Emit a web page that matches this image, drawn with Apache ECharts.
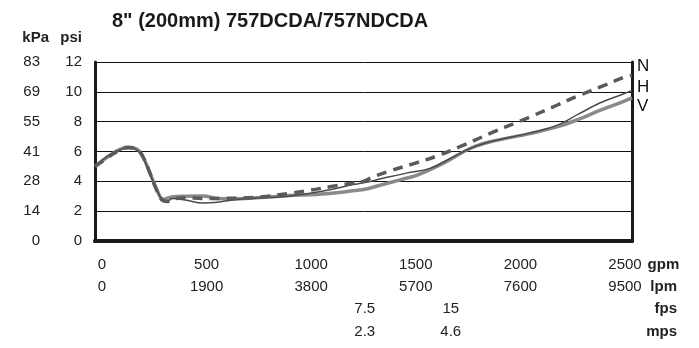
<!DOCTYPE html>
<html>
<head>
<meta charset="utf-8">
<script src="https://cdn.jsdelivr.net/npm/echarts@6/dist/echarts.min.js"></script>
<style>
html,body{margin:0;padding:0;background:#fff;}
#chart{width:699px;height:348px;}
</style>
</head>
<body>
<div id="chart"></div>
<script>
// ---- data ----
const titleText = '8" (200mm) 757DCDA/757NDCDA';
const gpmTicks = [0, 500, 1000, 1500, 2000, 2500];
const lpmLabels = ['0', '1900', '3800', '5700', '7600', '9500'];
const fpsPos = [1256, 1667];
const fpsLabels = ['7.5', '15'];
const mpsLabels = ['2.3', '4.6'];
const psiTicks = [0, 2, 4, 6, 8, 10, 12];
const kpaLabels = ['0', '14', '28', '41', '55', '69', '83'];
const starGpm = [1313, 1741];
const starLabels = ['*', '**'];

const nGpm = [0, 70, 116, 154, 196, 223, 256, 289, 317, 340, 360, 420, 503, 596, 754, 908, 1000, 1100, 1187, 1250, 1294, 1373, 1499, 1592, 1699, 1806, 1853, 1965, 2039, 2150, 2244, 2365, 2467, 2500];
const nPsi = [5.0, 5.7, 6.1, 6.25, 6.15, 5.65, 4.55, 3.35, 2.7, 2.65, 2.8, 2.9, 2.85, 2.86, 2.93, 3.2, 3.4, 3.65, 3.85, 4.0, 4.3, 4.7, 5.25, 5.7, 6.32, 7.0, 7.3, 7.95, 8.4, 9.1, 9.7, 10.4, 11.0, 11.1];

const hGpm = [0, 70, 116, 154, 196, 223, 256, 289, 317, 340, 360, 420, 503, 570, 640, 754, 875, 1000, 1100, 1190, 1250, 1341, 1450, 1560, 1650, 1746, 1840, 2025, 2150, 2250, 2350, 2450, 2500];
const hPsi = [5.0, 5.8, 6.1, 6.25, 6.1, 5.6, 4.5, 3.4, 2.75, 2.7, 2.85, 2.75, 2.55, 2.6, 2.75, 2.88, 2.97, 3.2, 3.45, 3.75, 3.9, 4.2, 4.55, 4.87, 5.5, 6.2, 6.65, 7.25, 7.75, 8.5, 9.25, 9.8, 10.1];

const vGpm = [0, 70, 116, 154, 196, 223, 256, 289, 317, 358, 420, 503, 570, 640, 754, 908, 1000, 1100, 1190, 1250, 1330, 1420, 1500, 1620, 1746, 1840, 2025, 2150, 2250, 2350, 2450, 2500];
const vPsi = [5.0, 5.75, 6.15, 6.3, 6.15, 5.65, 4.55, 3.4, 2.8, 2.95, 3.0, 3.02, 2.85, 2.82, 2.9, 3.05, 3.1, 3.2, 3.35, 3.45, 3.75, 4.1, 4.42, 5.2, 6.2, 6.65, 7.2, 7.65, 8.15, 8.75, 9.3, 9.6];

// ---- chart ----
const FONT = '"Liberation Sans", Arial, sans-serif';
const TXT = '#222';
const FS = 15;
const pair = (xs, ys) => xs.map((x, i) => [x, ys[i]]);

const chart = echarts.init(document.getElementById('chart'), null, {renderer: 'canvas'});

function labelAxis(offset, axisLabel, unit) {
  return {
    gridIndex: 1, type: 'value', min: 0, max: 2500, interval: 500,
    position: 'bottom', offset: offset,
    axisLine: {show: false}, axisTick: {show: false}, splitLine: {show: false},
    axisLabel: Object.assign({show: true, margin: 16, color: TXT, fontSize: FS, fontFamily: FONT,
      showMinLabel: true, showMaxLabel: true}, axisLabel),
    name: unit, nameLocation: 'end', nameGap: 52,
    nameTextStyle: {align: 'right', verticalAlign: 'top', padding: [16, 0, 0, 0],
      fontSize: FS, fontWeight: 'bold', fontFamily: FONT, color: TXT}
  };
}
const fpsFmt = labels => (v => { const i = fpsPos.indexOf(v); return i >= 0 ? labels[i] : ''; });

const option = {
  animation: false,
  backgroundColor: '#fff',
  title: {
    text: titleText, left: 112, top: 11, padding: 0,
    textStyle: {fontSize: 20, fontWeight: 'bold', fontFamily: FONT, color: '#1a1a1a'}
  },
  grid: [
    {left: 95, right: 67, top: 62, bottom: 107},
    {left: 102, right: 74, top: 62, bottom: 107}
  ],
  xAxis: [
    {gridIndex: 0, type: 'value', min: 0, max: 2500, position: 'bottom',
      axisLine: {lineStyle: {color: '#1a1a1a', width: 4}}, axisTick: {show: false},
      axisLabel: {show: false}, splitLine: {show: false}},
    {gridIndex: 0, type: 'value', min: 0, max: 2500, position: 'top',
      axisLine: {show: true, lineStyle: {color: '#1a1a1a', width: 3}}, axisTick: {show: false},
      axisLabel: {show: false}, splitLine: {show: false}},
    labelAxis(0, {formatter: v => String(v)}, 'gpm'),
    labelAxis(22, {formatter: v => lpmLabels[gpmTicks.indexOf(v)]}, 'lpm'),
    labelAxis(44.5, {customValues: fpsPos, formatter: fpsFmt(fpsLabels)}, 'fps'),
    labelAxis(67, {customValues: fpsPos, formatter: fpsFmt(mpsLabels)}, 'mps')
  ],
  yAxis: [
    {gridIndex: 0, type: 'value', min: 0, max: 12, interval: 2, position: 'left',
      axisLine: {show: true, lineStyle: {color: '#1a1a1a', width: 3}}, axisTick: {show: false},
      axisLabel: {margin: 13, color: TXT, fontSize: FS, fontFamily: FONT},
      splitLine: {show: true, lineStyle: {color: '#111', width: 1}},
      name: 'psi', nameLocation: 'end', nameGap: 17,
      nameTextStyle: {align: 'right', padding: [0, 13, 0, 0], fontSize: FS, fontWeight: 'bold', fontFamily: FONT, color: TXT}},
    {gridIndex: 0, type: 'value', min: 0, max: 12, interval: 2, position: 'left', offset: 42,
      axisLine: {show: false}, axisTick: {show: false},
      axisLabel: {margin: 13, color: TXT, fontSize: FS, fontFamily: FONT,
        formatter: v => kpaLabels[psiTicks.indexOf(v)]},
      splitLine: {show: false},
      name: 'kPa', nameLocation: 'end', nameGap: 17,
      nameTextStyle: {align: 'right', padding: [0, 46, 0, 0], fontSize: FS, fontWeight: 'bold', fontFamily: FONT, color: TXT}},
    {gridIndex: 0, type: 'value', min: 0, max: 12, interval: 2, position: 'right',
      axisLine: {show: true, lineStyle: {color: '#1a1a1a', width: 3}}, axisTick: {show: false},
      axisLabel: {show: false}, splitLine: {show: false}},
    {gridIndex: 1, type: 'value', min: 0, max: 12, show: false}
  ],
  series: [
    {name: 'V', type: 'line', xAxisIndex: 0, yAxisIndex: 0, data: pair(vGpm, vPsi),
      smooth: 0.4, showSymbol: false, lineStyle: {color: '#8a8a8a', width: 3.5},
      endLabel: {show: true, formatter: '{a}', offset: [0, 9], distance: 5, color: '#111', fontSize: 17, fontFamily: FONT}},
    {name: 'H', type: 'line', xAxisIndex: 0, yAxisIndex: 0, data: pair(hGpm, hPsi),
      smooth: 0.4, showSymbol: false, lineStyle: {color: '#4a4a4a', width: 1.5},
      endLabel: {show: true, formatter: '{a}', offset: [0, -3], distance: 5, color: '#111', fontSize: 17, fontFamily: FONT}},
    {name: 'N', type: 'line', xAxisIndex: 0, yAxisIndex: 0, data: pair(nGpm, nPsi),
      smooth: 0.4, showSymbol: false, lineStyle: {color: '#5a5a5a', width: 3.5, type: [10, 7]},
      endLabel: {show: true, formatter: '{a}', offset: [0, -9], distance: 5, color: '#111', fontSize: 17, fontFamily: FONT}},
    {name: 'marks', type: 'line', xAxisIndex: 0, yAxisIndex: 0, data: [],
      markLine: {
        silent: true, symbol: ['none', 'none'],
        lineStyle: {color: '#111', width: 3, type: 'solid'},
        label: {show: true, position: 'end', distance: 0, fontSize: 24, fontWeight: 'bold',
          color: '#111', fontFamily: FONT},
        data: starGpm.map((g, i) => [
          {coord: [g, 0], label: {formatter: starLabels[i]}},
          {coord: [g, 12.27]}
        ])
      }}
  ]
};
chart.setOption(option);
</script>
</body>
</html>
